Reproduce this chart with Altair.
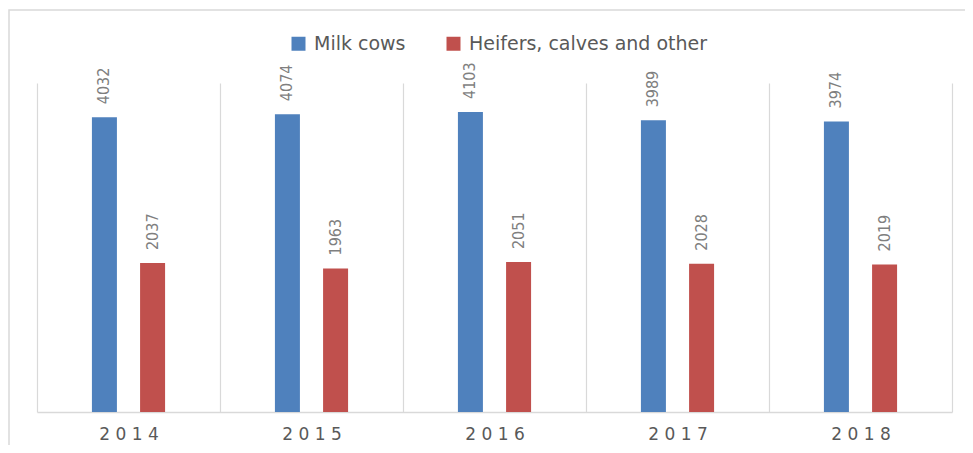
import altair as alt
import pandas as pd

years = ["2014", "2015", "2016", "2017", "2018"]
series = ["Milk cows", "Heifers, calves and other"]
milk_cows = [4032, 4074, 4103, 3989, 3974]
heifers = [2037, 1963, 2051, 2028, 2019]
colors = ["#4f81bd", "#c0504d"]

rows = []
for i, y in enumerate(years):
    rows.append({"year": y, "series": series[0], "value": milk_cows[i]})
    rows.append({"year": y, "series": series[1], "value": heifers[i]})
df = pd.DataFrame(rows)

GRID = "#d9d9d9"

x_enc = alt.X(
    "year:N",
    sort=years,
    scale=alt.Scale(paddingInner=0, paddingOuter=0),
    axis=alt.Axis(
        title=None, grid=True, gridColor=GRID, gridWidth=1.2, tickBand="extent",
        ticks=False, domainColor=GRID, domainWidth=1.5, labelAngle=0,
        labelExpr="join(split(datum.label, ''), ' ')",
        labelFont="DejaVu Sans", labelFontSize=17, labelColor="#595959",
        labelPadding=14,
    ),
)
y_enc = alt.Y("value:Q", scale=alt.Scale(domain=[0, 4500]), axis=None)
xo_enc = alt.XOffset("series:N", sort=series,
                     scale=alt.Scale(domain=series, paddingInner=0, paddingOuter=0.9))
color_enc = alt.Color(
    "series:N",
    scale=alt.Scale(domain=series, range=colors),
    legend=alt.Legend(
        title=None, orient="none", legendX=252, legendY=-49, direction="horizontal",
        symbolType="square", symbolSize=196, symbolStrokeWidth=0, padding=0,
        labelFont="DejaVu Sans", labelFontSize=19, labelColor="#595959",
        labelLimit=0, columnPadding=38, labelOffset=6,
    ),
)

bars = alt.Chart(df).mark_bar(width=25).encode(x=x_enc, y=y_enc, xOffset=xo_enc, color=color_enc)
labels = alt.Chart(df).mark_text(
    angle=270, align="left", baseline="middle", dx=13, fontSize=16,
    color="#7f7f7f", font="Liberation Sans Narrow, DejaVu Sans Condensed, Roboto",
).encode(x=x_enc, y=y_enc, xOffset=xo_enc, text="value:Q")

one = pd.DataFrame({"a": [0]})
frame = alt.Chart(one).mark_rect(fill=None, fillOpacity=0, stroke=GRID, strokeWidth=1.5).encode(
    x=alt.value(-28), x2=alt.value(990), y=alt.value(-73), y2=alt.value(420))

chart = alt.layer(frame, bars, labels).properties(
    width=915, height=329,
    background="white",
    autosize=alt.AutoSizeParams(type="none"),
    padding={"left": 29, "top": 75, "right": 13, "bottom": 33},
).configure_view(strokeWidth=0, stroke="transparent")

chart.save("out.html", embed_options={"renderer": "svg", "actions": False})
